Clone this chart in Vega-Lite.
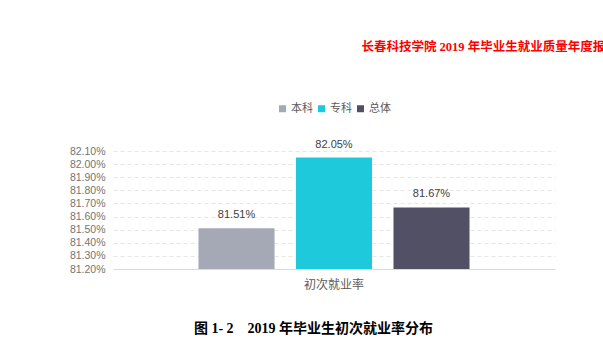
{
  "$schema": "https://vega.github.io/schema/vega-lite/v6.json",
  "autosize": {"type": "none"},
  "width": 442,
  "height": 118,
  "padding": {"left": 113, "top": 151, "right": 48, "bottom": 78},
  "background": "white",
  "title": {
    "text": "长春科技学院 2019 年毕业生就业质量年度报告",
    "anchor": "start",
    "dx": 292,
    "color": "#ff0000",
    "fontSize": 12.5,
    "font": "Liberation Serif, Noto Sans CJK SC",
    "fontWeight": "bold",
    "offset": 50
  },
  "data": {
    "values": [
      {"category": "初次就业率", "group": "本科", "rate": 81.51, "label": "81.51%"},
      {"category": "初次就业率", "group": "专科", "rate": 82.05, "label": "82.05%"},
      {"category": "初次就业率", "group": "总体", "rate": 81.67, "label": "81.67%"}
    ]
  },
  "encoding": {
    "x": {
      "field": "category",
      "type": "nominal",
      "scale": {"paddingInner": 0, "paddingOuter": 0.2556},
      "axis": {
        "labelAngle": 0,
        "labelFontSize": 12,
        "labelColor": "#595959",
        "labelFont": "Noto Sans CJK SC",
        "labelPadding": 10,
        "ticks": false,
        "domainColor": "#d9d9d9",
        "title": "图 1- 2\u00a0\u00a0\u00a0\u00a02019 年毕业生初次就业率分布",
        "titleFont": "Liberation Serif, Noto Sans CJK SC",
        "titleFontSize": 14,
        "titleFontWeight": "bold",
        "titleColor": "#000000",
        "titlePadding": 31,
        "titleX": 200
      }
    },
    "xOffset": {
      "field": "group",
      "type": "nominal",
      "sort": ["本科", "专科", "总体"],
      "scale": {"paddingInner": 0.22, "paddingOuter": 0.11}
    },
    "y": {
      "field": "rate",
      "type": "quantitative",
      "scale": {"domain": [81.2, 82.1], "nice": false, "zero": false},
      "axis": {
        "values": [81.2, 81.3, 81.4, 81.5, 81.6, 81.7, 81.8, 81.9, 82.0, 82.1],
        "labelExpr": "format(datum.value, '.2f') + '%'",
        "labelFontSize": 10.5,
        "labelColor": "#737373",
        "labelFont": "Liberation Sans",
        "labelPadding": 8,
        "ticks": false,
        "domain": false,
        "grid": true,
        "gridColor": "#e6e6e6",
        "gridDash": [4, 3],
        "title": null
      }
    }
  },
  "layer": [
    {
      "mark": {"type": "bar", "clip": true},
      "encoding": {
        "color": {
          "field": "group",
          "type": "nominal",
          "sort": ["本科", "专科", "总体"],
          "scale": {"domain": ["本科", "专科", "总体"], "range": ["#a5a8b5", "#1fc9dc", "#525064"]},
          "legend": {
            "orient": "top",
            "title": null,
            "symbolType": "square",
            "symbolSize": 49,
            "symbolStrokeWidth": 0,
            "labelFontSize": 11,
            "labelColor": "#595959",
            "labelFont": "Noto Sans CJK SC",
            "labelOffset": 3,
            "columnPadding": 3,
            "offset": 37
          }
        }
      }
    },
    {
      "mark": {"type": "text", "dy": -8, "baseline": "bottom", "fontSize": 11, "color": "#404040", "font": "Liberation Sans"},
      "encoding": {"text": {"field": "label"}}
    }
  ],
  "config": {
    "view": {"stroke": null},
    "legend": {"layout": {"top": {"anchor": "middle"}}}
  }
}
